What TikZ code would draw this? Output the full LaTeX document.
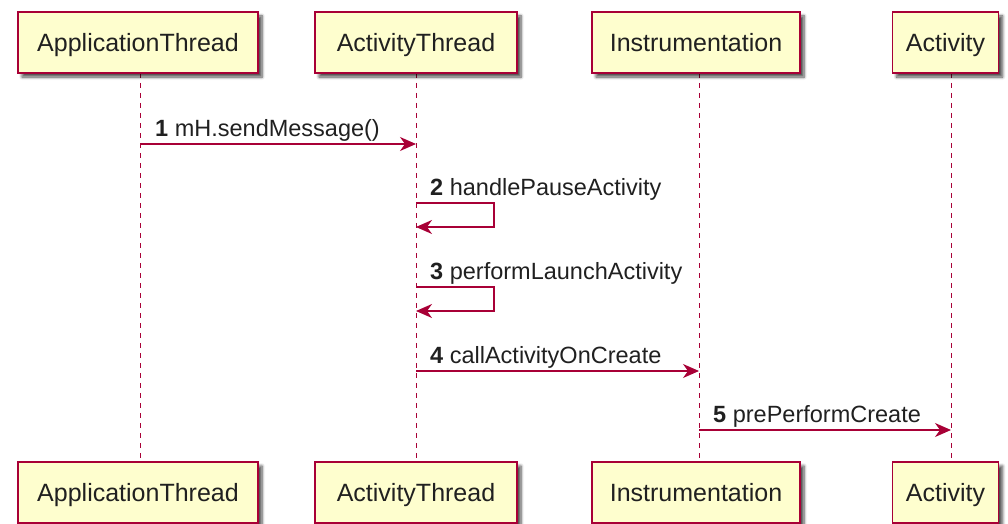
\documentclass[tikz,border=0pt]{standalone}
\usepackage{fontspec}
\setmainfont{Liberation Sans}
\usetikzlibrary{arrows.meta,shadows.blur}
\definecolor{umlred}{HTML}{A80036}
\definecolor{umlfill}{HTML}{FEFECE}
\definecolor{umltext}{HTML}{202020}
\tikzset{
  part/.style={draw=umlred, fill=umlfill, line width=1.4pt, minimum height=61pt,
    inner sep=0pt, text height=20pt, text depth=2pt, text=umltext,
    font=\fontsize{25}{30}\selectfont,
    blur shadow={shadow xshift=4pt, shadow yshift=-4pt, shadow blur steps=6,
      shadow blur radius=3pt, shadow opacity=70}},
  life/.style={draw=umlred, line width=1pt, dash pattern=on 5pt off 5pt},
  msg/.style={draw=umlred, line width=1.3pt, -{Stealth[length=16pt,width=14pt,inset=5pt]}},
  lbl/.style={anchor=base west, inner sep=0pt, text=umltext, font=\fontsize{23.5}{28}\selectfont}
}
\begin{document}
\begin{tikzpicture}[x=1pt,y=-1pt]
\useasboundingbox (0,0) rectangle (1008,524);
% lifelines
\coordinate (at0) at (140,73); \coordinate (at1) at (140,462);
\coordinate (ac0) at (416,73); \coordinate (ac1) at (416,462);
\coordinate (in0) at (699,73); \coordinate (in1) at (699,462);
\coordinate (av0) at (951,73); \coordinate (av1) at (951,462);
\draw[life] (at0) -- (at1);
\draw[life] (ac0) -- (ac1);
\draw[life] (in0) -- (in1);
\draw[life] (av0) -- (av1);
% participants top
\node[part, minimum width=240pt] (pAT) at (138,42.5) {ApplicationThread};
\node[part, minimum width=202pt] (pAC) at (416,42.5) {ActivityThread};
\node[part, minimum width=208pt] (pIN) at (696,42.5) {Instrumentation};
\node[part, minimum width=106pt] (pAV) at (945.5,42.5) {Activity};
% participants bottom
\node[part, minimum width=240pt] (qAT) at (138,492.5) {ApplicationThread};
\node[part, minimum width=202pt] (qAC) at (416,492.5) {ActivityThread};
\node[part, minimum width=208pt] (qIN) at (696,492.5) {Instrumentation};
\node[part, minimum width=106pt] (qAV) at (945.5,492.5) {Activity};
% message 1
\coordinate (m1a) at (140,144); \coordinate (m1b) at (416,144);
\draw[msg] (m1a) -- (m1b);
\node[lbl] (l1) at (155,136) {\textbf{1} mH.sendMessage()};
% message 2
\coordinate (m2a) at (416,203); \coordinate (m2b) at (416,227);
\draw[msg] (m2a) -- ++(78,0) |- (m2b);
\node[lbl] (l2) at (430,195) {\textbf{2} handlePauseActivity};
% message 3
\coordinate (m3a) at (416,287); \coordinate (m3b) at (416,311);
\draw[msg] (m3a) -- ++(78,0) |- (m3b);
\node[lbl] (l3) at (430,279) {\textbf{3} performLaunchActivity};
% message 4
\coordinate (m4a) at (416,371); \coordinate (m4b) at (699,371);
\draw[msg] (m4a) -- (m4b);
\node[lbl] (l4) at (430,363) {\textbf{4} callActivityOnCreate};
% message 5
\coordinate (m5a) at (699,430); \coordinate (m5b) at (951,430);
\draw[msg] (m5a) -- (m5b);
\node[lbl] (l5) at (713,422) {\textbf{5} prePerformCreate};
\end{tikzpicture}
\end{document}
